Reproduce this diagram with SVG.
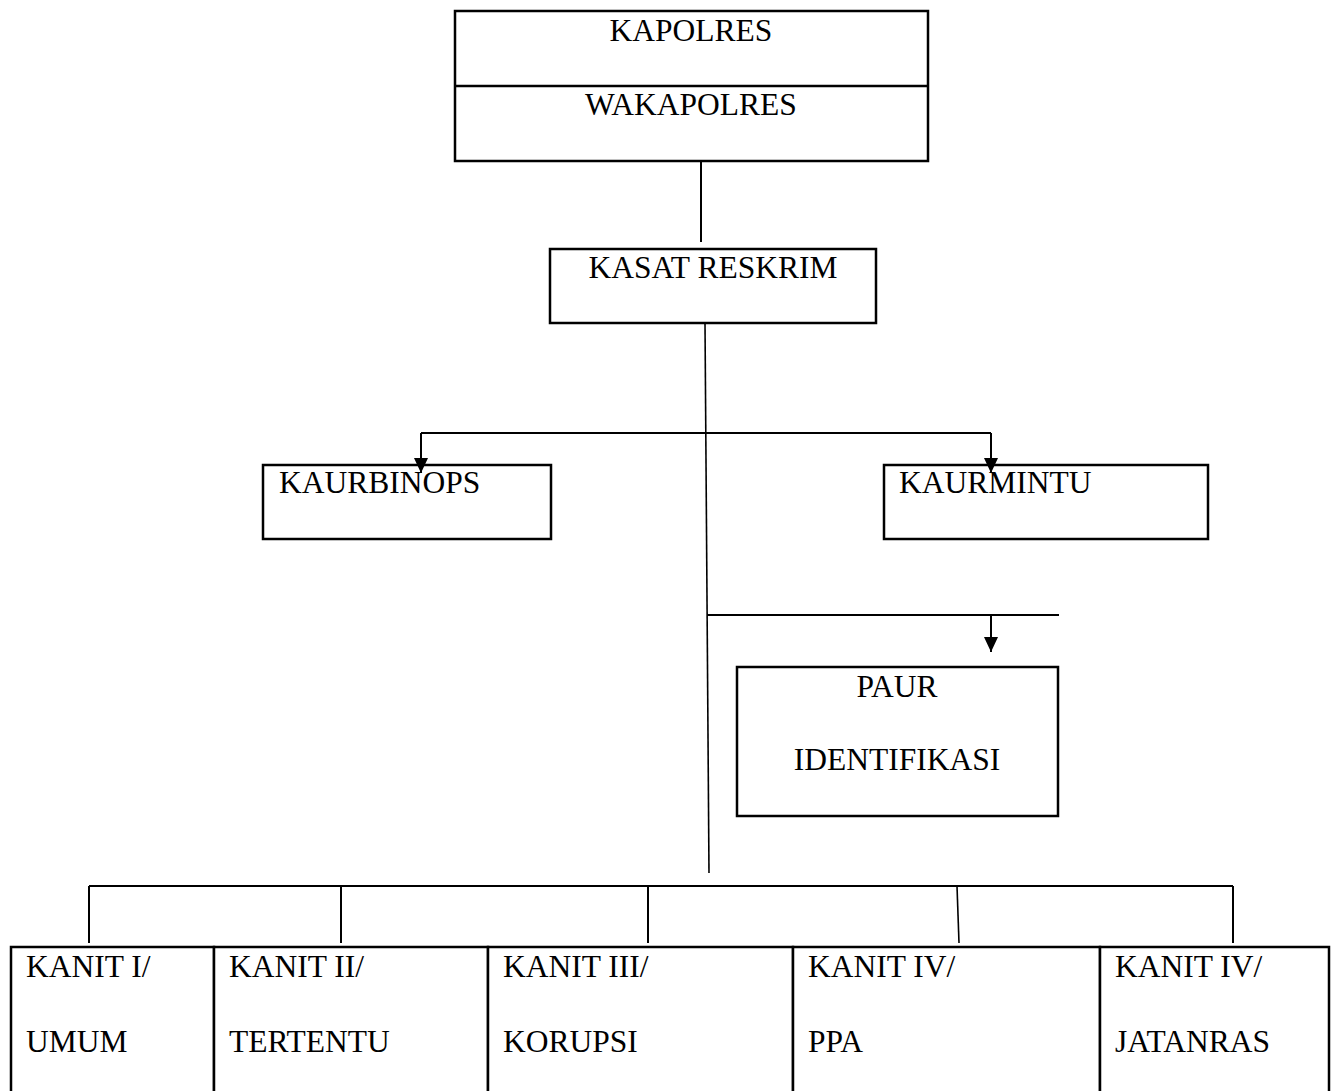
<svg xmlns="http://www.w3.org/2000/svg" width="1336" height="1091" viewBox="0 0 1336 1091">
<style>
.box{fill:#fff;stroke:#000;stroke-width:2.5}
.ln{fill:none;stroke:#000;stroke-width:2}
.thin{fill:none;stroke:#000;stroke-width:1.6}
text{font-family:"Liberation Serif","Times New Roman",serif;font-size:31.5px;fill:#000}
.c{text-anchor:middle}
</style>
<defs>
<marker id="ah" markerUnits="userSpaceOnUse" markerWidth="15" markerHeight="14" viewBox="0 0 15 14" refX="15" refY="7" orient="auto">
<path d="M0,0 L15,7 L0,14 Z" fill="#000"/>
</marker>
</defs>
<rect width="1336" height="1091" fill="#fff"/>
<g id="kapolres">
<rect class="box" x="455" y="11" width="473" height="150"/>
<line class="ln" x1="455" y1="86" x2="928" y2="86" style="stroke-width:2.5"/>
<text class="c" x="691" y="41">KAPOLRES</text>
<text class="c" x="691" y="115">WAKAPOLRES</text>
</g>
<g id="kasat">
<rect class="box" x="550" y="249" width="326" height="74"/>
<text class="c" x="713" y="278">KASAT RESKRIM</text>
</g>
<g id="kaurbinops">
<rect class="box" x="263" y="465" width="288" height="74"/>
<text x="279" y="493">KAURBINOPS</text>
</g>
<g id="kaurmintu">
<rect class="box" x="884" y="465" width="324" height="74"/>
<text x="899" y="493">KAURMINTU</text>
</g>
<g id="paur">
<rect class="box" x="737" y="667" width="321" height="149"/>
<text class="c" x="897" y="697">PAUR</text>
<text class="c" x="897" y="770">IDENTIFIKASI</text>
</g>
<g id="kanit1">
<rect class="box" x="11" y="947" width="203" height="160"/>
<text x="26" y="977">KANIT I/</text>
<text x="26" y="1052">UMUM</text>
</g>
<g id="kanit2">
<rect class="box" x="214" y="947" width="274" height="160"/>
<text x="229" y="977">KANIT II/</text>
<text x="229" y="1052">TERTENTU</text>
</g>
<g id="kanit3">
<rect class="box" x="488" y="947" width="305" height="160"/>
<text x="503" y="977">KANIT III/</text>
<text x="503" y="1052">KORUPSI</text>
</g>
<g id="kanit4">
<rect class="box" x="793" y="947" width="307" height="160"/>
<text x="808" y="977">KANIT IV/</text>
<text x="808" y="1052">PPA</text>
</g>
<g id="kanit5">
<rect class="box" x="1100" y="947" width="229" height="160"/>
<text x="1115" y="977">KANIT IV/</text>
<text x="1115" y="1052">JATANRAS</text>
</g>
<g id="connectors">
<line class="ln" x1="701" y1="161" x2="701" y2="242"/>
<line class="thin" x1="705" y1="323" x2="709" y2="873"/>
<line class="ln" x1="421" y1="433" x2="991" y2="433"/>
<line class="ln" x1="421" y1="433" x2="421" y2="473" marker-end="url(#ah)"/>
<line class="ln" x1="991" y1="433" x2="991" y2="473" marker-end="url(#ah)"/>
<line class="ln" x1="707" y1="615" x2="1059" y2="615"/>
<line class="ln" x1="991" y1="615" x2="991" y2="652" marker-end="url(#ah)"/>
<line class="ln" x1="89" y1="886" x2="1233" y2="886"/>
<line class="ln" x1="89" y1="886" x2="89" y2="943"/>
<line class="ln" x1="341" y1="886" x2="341" y2="943"/>
<line class="ln" x1="648" y1="886" x2="648" y2="943"/>
<line class="thin" x1="957" y1="886" x2="959" y2="943"/>
<line class="ln" x1="1233" y1="886" x2="1233" y2="943"/>
</g>
</svg>
